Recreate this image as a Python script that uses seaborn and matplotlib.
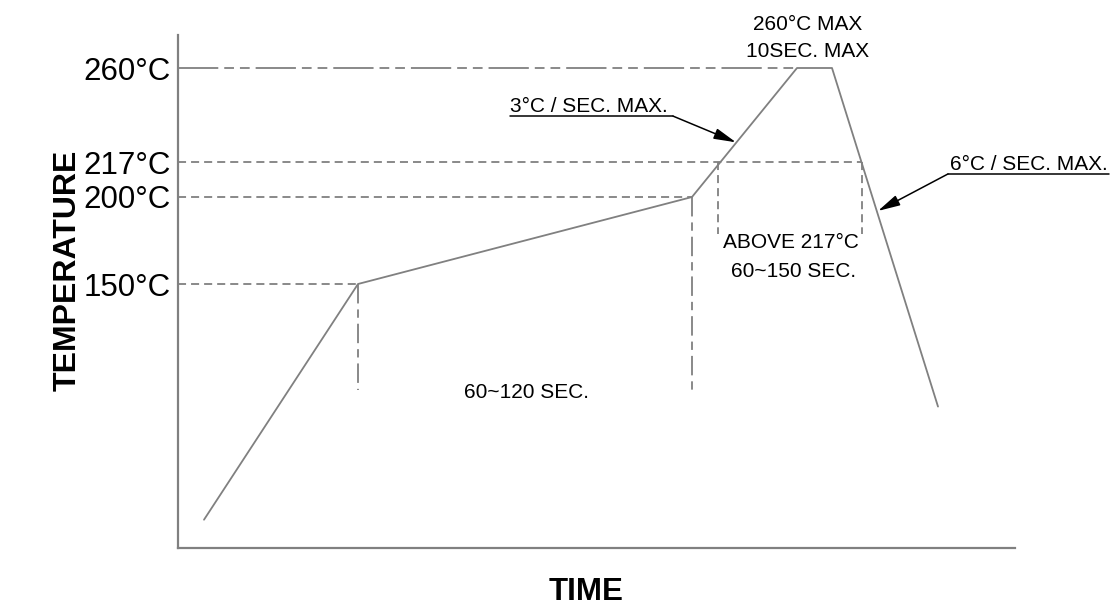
import numpy as np
import pandas as pd
import matplotlib
matplotlib.use("Agg")
import matplotlib.pyplot as plt
import seaborn as sns

# reflow profile (schematic), time in s, temperature in degC
profile_time = [13, 90, 257, 309.5, 327, 380]
profile_temp = [25, 150, 200, 260, 260, 85]

temp_ticks = [150, 200, 217, 260]
temp_labels = ["150°C", "200°C", "217°C", "260°C"]

# the drawing is not to scale: temperature -> drawing height knots
scale_temp = [10, 150, 200, 217, 260, 280]
scale_height = [0, 264, 351, 386, 480, 524]

# horizontal guides: start time, end time, temperature
h_guides_t0 = [0, 0, 0, 0]
h_guides_t1 = [90, 257, 342, 309.5]
h_guides_temp = [150, 200, 217, 260]
# vertical guides: time, top temperature, bottom temperature
v_guides_t = [90, 257, 270, 342]
v_guides_top = [150, 200, 217, 217]
v_guides_bot = [94, 94, 179, 179]

sns.set_style("white")
plt.rcParams['font.family'] = ['Liberation Sans', 'DejaVu Sans']
plt.rcParams['lines.scale_dashes'] = False
plt.rcParams['text.color'] = 'black'
plt.rcParams['ytick.color'] = 'black'

gray = "#808080"

fig = plt.figure(figsize=(11.13, 6.10), dpi=100)
ax = fig.add_axes([178 / 1113, 62 / 610, 837 / 1113, 513 / 610])


def fwd(t):
    return np.interp(t, scale_temp, scale_height)


def inv(h):
    return np.interp(h, scale_height, scale_temp)


ax.set_yscale('function', functions=(fwd, inv))

df = pd.DataFrame({"time": profile_time, "temp": profile_temp})
sns.lineplot(data=df, x="time", y="temp", sort=False, color=gray, lw=1.3, ax=ax)

# horizontal guides
for t0, t1, tp in zip(h_guides_t0, h_guides_t1, h_guides_temp):
    if tp == 260:
        ds = (29, 4.3, 7, 4.3, 7, 4.3)
    else:
        ds = (5.8, 3.6)
    ax.plot([t0, t1], [tp, tp], color=gray, lw=1.3, dashes=ds)

# vertical guides
for t, top, bot in zip(v_guides_t, v_guides_top, v_guides_bot):
    if t in (90, 257):
        ds = (14, 4.3, 6, 4.3)
    else:
        ds = (5.8, 3.6)
    ax.plot([t, t], [top, bot], color=gray, lw=1.3, dashes=ds)

# rate callouts
arrow = dict(arrowstyle="-|>,head_length=0.9,head_width=0.22",
             color="black", lw=1.1, shrinkA=0, shrinkB=0, mutation_scale=15)
ax.plot([166, 247.5], [238, 238], color="black", lw=1.1)
ax.annotate("", xy=(279, 226), xytext=(247.5, 238), arrowprops=arrow)
ax.text(166, 240, "3°C / SEC. MAX.", fontsize=15, ha="left", va="baseline")

ax.plot([385, 465.5], [211.2, 211.2], color="black", lw=1.1, clip_on=False)
ax.annotate("", xy=(350, 192), xytext=(385, 211.2), arrowprops=arrow)
ax.text(386, 213.3, "6°C / SEC. MAX.", fontsize=15, ha="left", va="baseline",
        clip_on=False)

ax.text(315, 277.5, "260°C MAX", fontsize=15, ha="center", va="baseline", clip_on=False)
ax.text(315, 265, "10SEC. MAX", fontsize=15, ha="center", va="baseline", clip_on=False)
ax.text(306.5, 170.7, "ABOVE 217°C", fontsize=15, ha="center", va="baseline")
ax.text(308, 154, "60~150 SEC.", fontsize=15, ha="center", va="baseline")
ax.text(174, 89.5, "60~120 SEC.", fontsize=15, ha="center", va="baseline")

ax.set_xlim(0, 418.5)
ax.set_ylim(10, 275)
ax.set_xticks([])
ax.set_yticks(temp_ticks)
ax.set_yticklabels(temp_labels, fontsize=22.5)
ax.tick_params(axis='y', length=0, pad=5)
ax.set_xlabel("")
ax.set_ylabel("")
for s in ["top", "right"]:
    ax.spines[s].set_visible(False)
for s in ["left", "bottom"]:
    ax.spines[s].set_color(gray)
    ax.spines[s].set_linewidth(1.6)

fig.text(68 / 1113, 1 - 270 / 610, "TEMPERATURE", fontsize=23, fontweight="bold",
         rotation=90, ha="center", va="center")
fig.text(586 / 1113, 1 - 592 / 610, "TIME", fontsize=22.5, fontweight="bold",
         ha="center", va="center")

fig.savefig("out.png", dpi=100)
